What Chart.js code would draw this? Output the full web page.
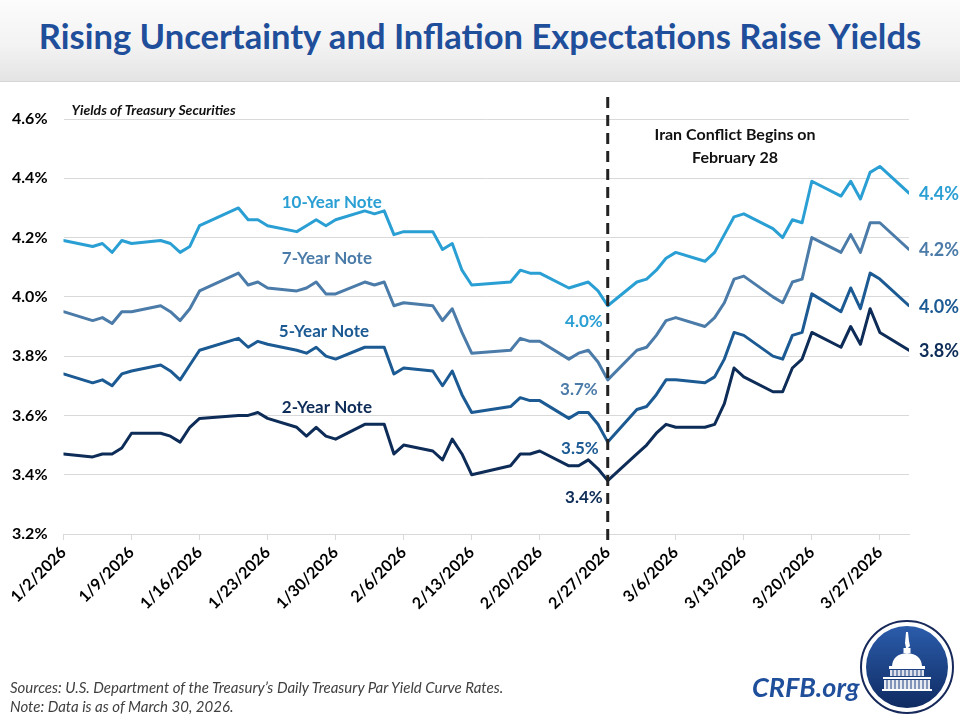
<!DOCTYPE html>
<html>
<head>
<meta charset="utf-8">
<title>Rising Uncertainty and Inflation Expectations Raise Yields</title>
<script src="https://cdn.jsdelivr.net/npm/chart.js@4.4.1/dist/chart.umd.min.js"></script>
<style>
  html, body { margin: 0; padding: 0; background: #fff; }
  #page { position: relative; width: 960px; height: 720px; overflow: hidden; font-family: Lato, 'Open Sans', sans-serif; }
  #header { position: absolute; left: 0; top: 0; width: 960px; height: 81px;
    background: linear-gradient(#fcfcfc, #f3f3f3 55%, #e4e4e4); border-bottom: 1px solid #d6d6d6; }
  #title { position: absolute; left: 0; top: 17px; width: 960px; text-align: center; color: #1f4e9b;
    font-weight: bold; font-size: 31px; white-space: nowrap; line-height: 38px; }
  #chart { position: absolute; left: 0; top: 0; }
  .foot { position: absolute; left: 10px; font-style: italic; font-size: 15px; color: #404040; white-space: nowrap; }
  #crfb { position: absolute; left: 752px; top: 670px; font-weight: bold; font-style: italic; font-size: 27px; color: #1f4e9b; }
  #logo { position: absolute; left: 859px; top: 619px; }
</style>
</head>
<body>
<div id="page">
  <div id="header"></div>
  <div id="title">Rising Uncertainty and Inflation Expectations Raise Yields</div>
  <canvas id="chart" width="960" height="720"></canvas>
  <div class="foot" style="top:678px;">Sources: U.S. Department of the Treasury’s Daily Treasury Par Yield Curve Rates.</div>
  <div class="foot" style="top:697px;">Note: Data is as of March 30, 2026.</div>
  <div id="crfb">CRFB.org</div>
  <svg id="logo" width="96" height="96" viewBox="0 0 96 96">
    <defs>
      <linearGradient id="disc" x1="0" y1="0" x2="0" y2="1">
        <stop offset="0" stop-color="#2b5cab"/>
        <stop offset="1" stop-color="#0f2b62"/>
      </linearGradient>
    </defs>
    <circle cx="48" cy="48" r="46" fill="#fff" stroke="#17295a" stroke-width="2"/>
    <circle cx="48" cy="48" r="41" fill="url(#disc)"/>
    <!-- capitol dome -->
    <g fill="#fff">
      <path d="M47 13 L49 13 L50 22 L51 27 L49 29 L47 29 L46 24 Z"/>
      <rect x="44.5" y="29" width="7" height="5"/>
      <path d="M33 47 Q34 35 48 34 Q62 35 63 47 Z"/>
      <rect x="30" y="47" width="36" height="3"/>
      <rect x="31" y="51" width="34" height="6" opacity="0.85"/>
      <rect x="24" y="58" width="48" height="2"/>
      <rect x="25" y="61" width="46" height="9" opacity="0.9"/>
      <rect x="23" y="70" width="50" height="2"/>
    </g>
    <g stroke="#1d3f80" stroke-width="1">
      <path d="M34 51 V57 M38 51 V57 M42 51 V57 M46 51 V57 M50 51 V57 M54 51 V57 M58 51 V57 M62 51 V57"/>
      <path d="M28 61 V70 M32 61 V70 M36 61 V70 M40 61 V70 M44 61 V70 M48 61 V70 M52 61 V70 M56 61 V70 M60 61 V70 M64 61 V70 M68 61 V70"/>
    </g>
  </svg>
</div>

<script>
// Treasury par yields, percent
// =====================================================

// Trading days, 2026
const tradeDates = [
  '1/2', '1/5', '1/6', '1/7', '1/8', '1/9', '1/12', '1/13', '1/14', '1/15', '1/16',
  '1/20', '1/21', '1/22', '1/23', '1/26', '1/27', '1/28', '1/29', '1/30',
  '2/2', '2/3', '2/4', '2/5', '2/6', '2/9', '2/10', '2/11', '2/12', '2/13',
  '2/17', '2/18', '2/19', '2/20', '2/23', '2/24', '2/25', '2/26', '2/27',
  '3/2', '3/3', '3/4', '3/5', '3/6', '3/9', '3/10', '3/11', '3/12', '3/13',
  '3/16', '3/17', '3/18', '3/19', '3/20', '3/23', '3/24', '3/25', '3/26', '3/27', '3/30'
];

const tenYear = [
  4.19, 4.17, 4.18, 4.15, 4.19, 4.18, 4.19, 4.18, 4.15, 4.17, 4.24,
  4.30, 4.26, 4.26, 4.24, 4.22, 4.24, 4.26, 4.24, 4.26,
  4.29, 4.28, 4.29, 4.21, 4.22, 4.22, 4.16, 4.18, 4.09, 4.04,
  4.05, 4.09, 4.08, 4.08, 4.03, 4.04, 4.05, 4.02, 3.97,
  4.05, 4.06, 4.09, 4.13, 4.15, 4.12, 4.15, 4.21, 4.27, 4.28,
  4.23, 4.20, 4.26, 4.25, 4.39, 4.34, 4.39, 4.33, 4.42, 4.44, 4.35
];

const sevenYear = [
  3.95, 3.92, 3.93, 3.91, 3.95, 3.95, 3.97, 3.95, 3.92, 3.96, 4.02,
  4.08, 4.04, 4.05, 4.03, 4.02, 4.03, 4.05, 4.01, 4.01,
  4.05, 4.04, 4.05, 3.97, 3.98, 3.97, 3.92, 3.96, 3.88, 3.81,
  3.82, 3.86, 3.85, 3.85, 3.79, 3.81, 3.82, 3.78, 3.72,
  3.82, 3.83, 3.87, 3.92, 3.93, 3.90, 3.93, 3.98, 4.06, 4.07,
  4.00, 3.98, 4.05, 4.06, 4.20, 4.15, 4.21, 4.15, 4.25, 4.25, 4.16
];

const fiveYear = [
  3.74, 3.71, 3.72, 3.70, 3.74, 3.75, 3.77, 3.75, 3.72, 3.77, 3.82,
  3.86, 3.83, 3.85, 3.84, 3.82, 3.81, 3.83, 3.80, 3.79,
  3.83, 3.83, 3.83, 3.74, 3.76, 3.75, 3.70, 3.75, 3.67, 3.61,
  3.63, 3.66, 3.65, 3.65, 3.59, 3.61, 3.61, 3.57, 3.51,
  3.62, 3.63, 3.67, 3.72, 3.72, 3.71, 3.73, 3.79, 3.88, 3.87,
  3.80, 3.79, 3.87, 3.88, 4.01, 3.95, 4.03, 3.96, 4.08, 4.06, 3.97
];

const twoYear = [
  3.47, 3.46, 3.47, 3.47, 3.49, 3.54, 3.54, 3.53, 3.51, 3.56, 3.59,
  3.60, 3.60, 3.61, 3.59, 3.56, 3.53, 3.56, 3.53, 3.52,
  3.57, 3.57, 3.57, 3.47, 3.50, 3.48, 3.45, 3.52, 3.47, 3.40,
  3.43, 3.47, 3.47, 3.48, 3.43, 3.43, 3.45, 3.42, 3.38,
  3.47, 3.50, 3.54, 3.57, 3.56, 3.56, 3.57, 3.64, 3.76, 3.73,
  3.68, 3.68, 3.76, 3.79, 3.88, 3.83, 3.90, 3.84, 3.96, 3.88, 3.82
];

const seriesNames = ['10-Year Note', '7-Year Note', '5-Year Note', '2-Year Note'];
const conflictLabels = ['4.0%', '3.7%', '3.5%', '3.4%'];   // values on 2/27
const latestLabels = ['4.4%', '4.2%', '4.0%', '3.8%'];     // values on 3/30

const tickLabels = [
  '1/2/2026', '1/9/2026', '1/16/2026', '1/23/2026', '1/30/2026', '2/6/2026', '2/13/2026',
  '2/20/2026', '2/27/2026', '3/6/2026', '3/13/2026', '3/20/2026', '3/27/2026'
];
const yTicks = [3.2, 3.4, 3.6, 3.8, 4.0, 4.2, 4.4, 4.6];

const conflictDate = '2/27';
const lastDate = '3/30';

// Colors (10, 7, 5, 2 year)
const lineColors = ['#2a9fd4', '#4b7ba8', '#1b5a93', '#0d2c57'];

// Days since 1/2/2026
function dayOf(str) {
  const parts = str.split('/').map(Number);
  return (Date.UTC(2026, parts[0] - 1, parts[1]) - Date.UTC(2026, 0, 2)) / 86400000;
}

const allSeries = [tenYear, sevenYear, fiveYear, twoYear];

// Fit title to the banner width
(function fitTitle() {
  const el = document.getElementById('title');
  const c = document.createElement('canvas').getContext('2d');
  c.font = 'bold 31px Lato, sans-serif';
  const w = c.measureText(el.textContent).width;
  el.style.fontSize = (31 * 885 / w).toFixed(2) + 'px';
})();

// Labels, conflict line, chart subtitle
const notesPlugin = {
  id: 'yieldNotes',
  afterDatasetsDraw(chart) {
    const { ctx, scales: { x, y } } = chart;
    ctx.save();

    // Dashed line at the start of the conflict
    const xc = x.getPixelForValue(dayOf(conflictDate));
    ctx.strokeStyle = '#222';
    ctx.lineWidth = 3;
    ctx.setLineDash([11, 7]);
    ctx.beginPath();
    ctx.moveTo(xc, y.top - 22);
    ctx.lineTo(xc, y.bottom + 9);
    ctx.stroke();
    ctx.setLineDash([]);

    ctx.textBaseline = 'middle';

    // Subtitle
    ctx.fillStyle = '#111';
    ctx.textAlign = 'left';
    ctx.font = 'italic bold 14px Lato, sans-serif';
    ctx.fillText('Yields of Treasury Securities', x.left + 8, y.top - 9);

    // Event note
    ctx.textAlign = 'center';
    ctx.font = 'bold 16px Lato, sans-serif';
    ctx.fillText('Iran Conflict Begins on', x.getPixelForValue(69.1), y.getPixelForValue(4.547));
    ctx.fillText('February 28', x.getPixelForValue(69.1), y.getPixelForValue(4.468));

    // Series names
    const nameSpots = [[27.6, 4.317], [27.1, 4.130], [26.8, 3.882], [27.1, 3.627]];
    ctx.font = 'bold 17px Lato, sans-serif';
    seriesNames.forEach((name, i) => {
      ctx.fillStyle = lineColors[i];
      ctx.fillText(name, x.getPixelForValue(nameSpots[i][0]), y.getPixelForValue(nameSpots[i][1]));
    });

    // Values on 2/27
    const ci = tradeDates.indexOf(conflictDate);
    const conflictSpots = [[-5, 16], [-10, 10], [-9, 6], [-5, 17]];
    ctx.textAlign = 'right';
    conflictLabels.forEach((txt, i) => {
      ctx.fillStyle = lineColors[i];
      ctx.fillText(txt, xc + conflictSpots[i][0], y.getPixelForValue(allSeries[i][ci]) + conflictSpots[i][1]);
    });

    // Latest values
    const li = tradeDates.indexOf(lastDate);
    const xl = x.getPixelForValue(dayOf(lastDate));
    ctx.textAlign = 'left';
    ctx.font = 'bold 18px Lato, sans-serif';
    latestLabels.forEach((txt, i) => {
      ctx.fillStyle = lineColors[i];
      ctx.fillText(txt, xl + 10, y.getPixelForValue(allSeries[i][li]) + 1);
    });

    ctx.restore();
  }
};

const datasets = allSeries.map((values, i) => ({
  label: seriesNames[i],
  data: values.map((v, j) => ({ x: dayOf(tradeDates[j]), y: v })),
  borderColor: lineColors[i],
  backgroundColor: lineColors[i],
  borderWidth: 3,
  borderJoinStyle: 'round',
  borderCapStyle: 'round',
  pointRadius: 0,
  tension: 0,
  fill: false
}));

new Chart(document.getElementById('chart'), {
  type: 'line',
  data: { datasets: datasets },
  plugins: [notesPlugin],
  options: {
    responsive: false,
    animation: false,
    layout: { padding: { left: 0, top: 119, right: 51, bottom: 86 } },
    plugins: {
      legend: { display: false },
      tooltip: { enabled: false }
    },
    scales: {
      x: {
        type: 'linear',
        min: 0,
        max: dayOf(lastDate),
        afterFit: scale => { scale.height = 100; },
        afterBuildTicks: scale => {
          scale.ticks = tickLabels.map(t => ({ value: dayOf(t.replace('/2026', '')) }));
        },
        grid: { drawOnChartArea: false, drawTicks: true, tickLength: 6, color: '#d9d9d9' },
        border: { display: true, color: '#d9d9d9', width: 1 },
        ticks: {
          autoSkip: false,
          minRotation: 45,
          maxRotation: 45,
          padding: 3,
          color: '#000',
          font: { family: 'Lato', weight: 'bold', size: 16 },
          callback: function (value) {
            const found = tickLabels.find(t => dayOf(t.replace('/2026', '')) === value);
            return found || '';
          }
        }
      },
      y: {
        min: yTicks[0],
        max: yTicks[yTicks.length - 1],
        afterFit: scale => { scale.width = 63.5; },
        afterBuildTicks: scale => {
          scale.ticks = yTicks.map(v => ({ value: v }));
        },
        grid: { color: '#d9d9d9', drawTicks: false },
        border: { display: false },
        ticks: {
          padding: 16,
          color: '#000',
          font: { family: 'Lato', weight: 'bold', size: 16 },
          callback: function (value) {
            return value.toFixed(1) + '%';
          }
        }
      }
    }
  }
});
</script>
</body>
</html>
